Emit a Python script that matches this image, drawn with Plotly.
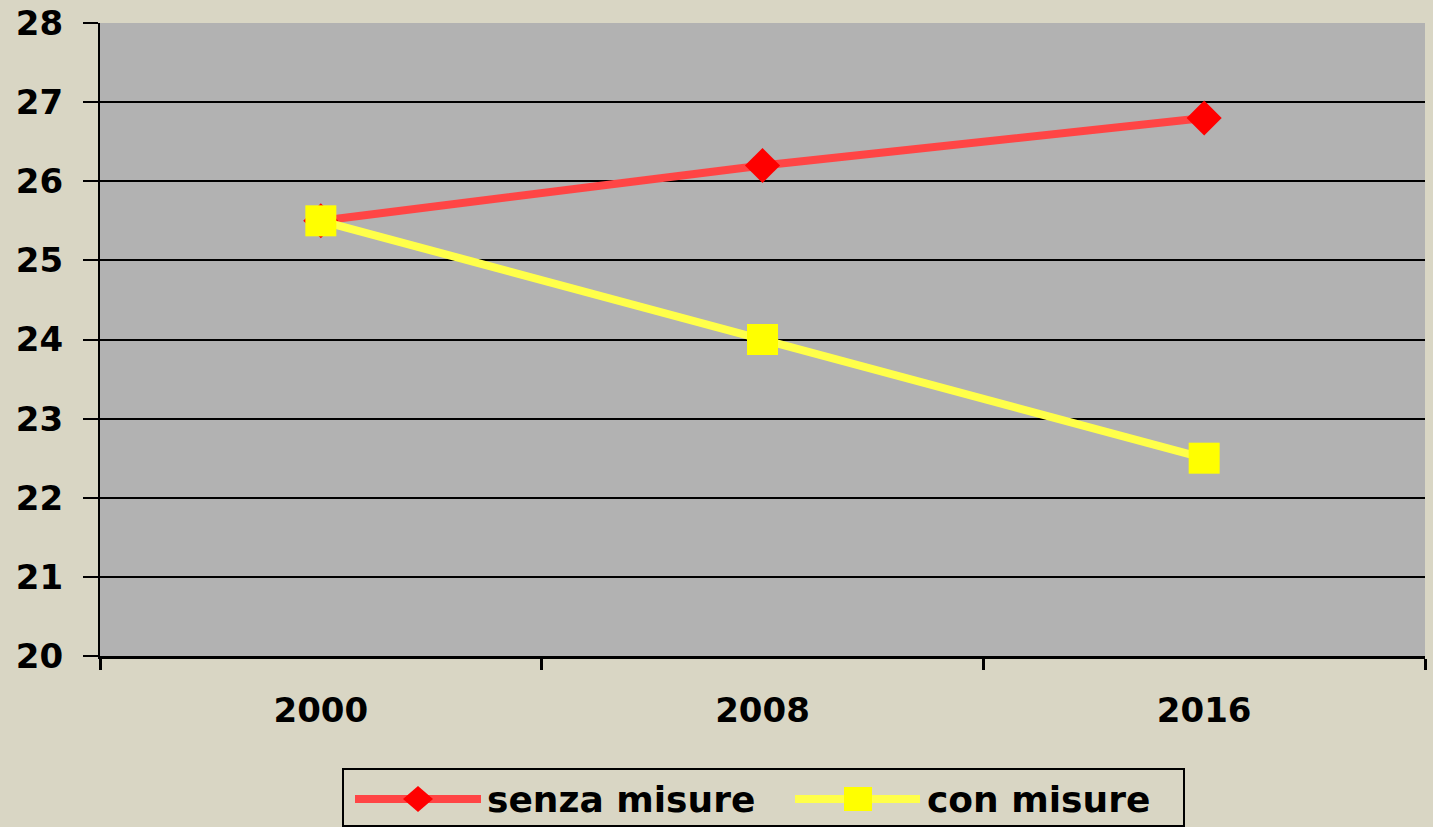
import plotly.graph_objects as go

years = ["2000", "2008", "2016"]
senza_misure = [25.5, 26.2, 26.8]
con_misure = [25.5, 24.0, 22.5]
y_ticks = [20, 21, 22, 23, 24, 25, 26, 27, 28]
legend_labels = ["senza misure", "con misure"]

W, H = 1433, 827
L, R, T, B = 100, 8, 23, 171
PW, PH = W - L - R, H - T - B

def px(x):
    return (x - L) / PW

def py(y):
    return (H - B - y) / PH

BG = "#D9D6C4"
PLOT_BG = "#B2B2B2"
RED_LINE = "#FF4545"
RED_MARK = "#FF0000"
YEL_LINE = "#FFFF4A"
YEL_MARK = "#FFFF00"
FONT = "DejaVu Sans"

fig = go.Figure()
fig.add_trace(go.Scatter(
    x=years, y=senza_misure, mode="lines+markers", name=legend_labels[0],
    line=dict(color=RED_LINE, width=8),
    marker=dict(symbol="diamond", size=27, color=RED_MARK, line=dict(width=0)),
))
fig.add_trace(go.Scatter(
    x=years, y=con_misure, mode="lines+markers", name=legend_labels[1],
    line=dict(color=YEL_LINE, width=8),
    marker=dict(symbol="square", size=31, color=YEL_MARK, line=dict(width=0)),
))

shapes = []
annotations = []
# legend box
shapes.append(dict(type="rect", xref="paper", yref="paper",
                   x0=px(343), x1=px(1184), y0=py(826), y1=py(769),
                   line=dict(color="black", width=2), fillcolor="rgba(0,0,0,0)", layer="above"))
ly = py(799)
# red legend item
shapes.append(dict(type="line", xref="paper", yref="paper", x0=px(355), x1=px(481), y0=ly, y1=ly,
                   line=dict(color=RED_LINE, width=8)))
cx, cy = 418, 799
shapes.append(dict(type="path", xref="paper", yref="paper",
                   path=f"M {px(cx-15)} {py(cy)} L {px(cx)} {py(cy-13)} L {px(cx+15)} {py(cy)} L {px(cx)} {py(cy+13)} Z",
                   fillcolor=RED_MARK, line=dict(width=0)))
annotations.append(dict(text=legend_labels[0], xref="paper", yref="paper", x=px(486), y=ly,
                        xanchor="left", yanchor="middle", showarrow=False, borderpad=0,
                        font=dict(family=FONT, size=36, color="black", weight="bold")))
# yellow legend item
shapes.append(dict(type="line", xref="paper", yref="paper", x0=px(795), x1=px(920), y0=ly, y1=ly,
                   line=dict(color=YEL_LINE, width=8)))
sx = 858
shapes.append(dict(type="rect", xref="paper", yref="paper",
                   x0=px(sx-14), x1=px(sx+14), y0=py(cy+12), y1=py(cy-12),
                   fillcolor=YEL_MARK, line=dict(width=0)))
annotations.append(dict(text=legend_labels[1], xref="paper", yref="paper", x=px(926), y=ly,
                        xanchor="left", yanchor="middle", showarrow=False, borderpad=0,
                        font=dict(family=FONT, size=36, color="black", weight="bold")))

fig.update_layout(
    width=W, height=H,
    margin=dict(l=L, r=R, t=T, b=B, pad=0, autoexpand=False),
    paper_bgcolor=BG, plot_bgcolor=PLOT_BG,
    showlegend=False,
    font=dict(family=FONT, size=34, color="black", weight="bold"),
    shapes=shapes, annotations=annotations,
    xaxis=dict(type="category", range=[-0.5, 2.5], tickson="boundaries", ticks="outside",
               ticklen=11, tickwidth=3, automargin=False,
               tickcolor="black", showline=True, linecolor="black", linewidth=3,
               showgrid=False, zeroline=False, ticklabelstandoff=22,
               tickfont=dict(family=FONT, size=34, color="black", weight="bold")),
    yaxis=dict(range=[20, 28], tickvals=y_ticks, ticks="outside", ticklen=15, tickwidth=2,
               automargin=False,
               tickcolor="black", showline=True, linecolor="black", linewidth=2,
               showgrid=True, gridcolor="black", gridwidth=2, zeroline=False,
               ticklabelstandoff=13,
               tickfont=dict(family=FONT, size=34, color="black", weight="bold")),
)

fig.write_html("out.html", config={"displayModeBar": False},
               post_script="document.body.style.margin='0';document.body.style.overflow='hidden';")
